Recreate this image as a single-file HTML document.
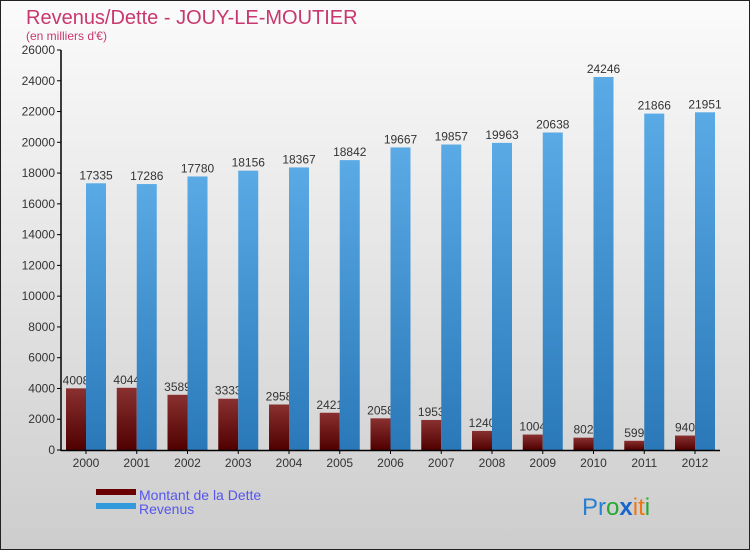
<!DOCTYPE html>
<html><head><meta charset="utf-8"><style>
body{margin:0;width:750px;height:550px;overflow:hidden;font-family:"Liberation Sans",sans-serif}
</style></head><body>
<svg id="c" width="750" height="550" xmlns="http://www.w3.org/2000/svg">
<defs>
<linearGradient id="bg" x1="0" y1="0" x2="0" y2="1"><stop offset="0" stop-color="#fbfbfb"/><stop offset="1" stop-color="#cdcdcd"/></linearGradient>
<linearGradient id="rg" x1="0" y1="0" x2="0" y2="1"><stop offset="0" stop-color="#8a3030"/><stop offset="1" stop-color="#500000"/></linearGradient>
<linearGradient id="bgr" x1="0" y1="0" x2="0" y2="1"><stop offset="0" stop-color="#5aaae6"/><stop offset="1" stop-color="#2a78b8"/></linearGradient>
</defs>
<rect x="0.5" y="0.5" width="749" height="549" fill="url(#bg)" stroke="#222"/>
<text x="26" y="24" font-size="20" fill="#c8386e">Revenus/Dette - JOUY-LE-MOUTIER</text>
<text x="26" y="40" font-size="12" fill="#c8386e">(en milliers d'€)</text>
<g id="plot"></g>
<rect x="96" y="489" width="40" height="6" fill="#6a0000"/>
<text x="139" y="500" font-size="14" fill="#5555ee">Montant de la Dette</text>
<rect x="96" y="503" width="40" height="6" fill="#3399dd"/>
<text x="139" y="514" font-size="14" fill="#5555ee">Revenus</text>
<g font-size="24" font-family="Liberation Sans, sans-serif">
<text x="582" y="515"><tspan fill="#2a7fd0">Pr</tspan><tspan fill="#22aa33">o</tspan><tspan fill="#1a66cc" font-weight="bold">x</tspan><tspan fill="#ee7711">i</tspan><tspan fill="#ee7711">t</tspan><tspan fill="#22aa33">i</tspan></text>
</g>
</svg>
<script>
const years=["2000","2001","2002","2003","2004","2005","2006","2007","2008","2009","2010","2011","2012"];
const dette=[4008,4044,3589,3333,2958,2421,2058,1953,1240,1004,802,599,940];
const revenus=[17335,17286,17780,18156,18367,18842,19667,19857,19963,20638,24246,21866,21951];
const ticks=[0,2000,4000,6000,8000,10000,12000,14000,16000,18000,20000,22000,24000,26000];
const NS="http://www.w3.org/2000/svg";
const g=document.getElementById('plot');
const y=v=>450-v*400/26000;
const x=i=>86+i*50.75;
function mk(t,a){const e=document.createElementNS(NS,t);for(const k in a)e.setAttribute(k,a[k]);g.appendChild(e);return e;}
ticks.forEach(t=>{
  const l=mk('line',{x1:57,x2:61,y1:y(t),y2:y(t),stroke:'#000'});
  
  
  const tx=mk('text',{x:55,y:y(t)+4,'text-anchor':'end','font-size':12,fill:'#333'});
  tx.textContent=t;
  
  
});
years.forEach((yr,i)=>{
  const c=x(i);
  const r=mk('rect',{x:c-20,y:y(dette[i]),width:20,height:450-y(dette[i]),fill:'url(#rg)'});
  
  
  const rt=mk('text',{x:c-10,y:y(dette[i])-4,'text-anchor':'middle','font-size':12,fill:'#333'});
  rt.textContent=dette[i];
  
  
  const b=mk('rect',{x:c,y:y(revenus[i]),width:20,height:450-y(revenus[i]),fill:'url(#bgr)'});
  
  
  const bt=mk('text',{x:c+10,y:y(revenus[i])-4,'text-anchor':'middle','font-size':12,fill:'#333'});
  bt.textContent=revenus[i];
  
  
  const tk=mk('line',{x1:c,x2:c,y1:450,y2:454,stroke:'#000'});
  
  
  const lt=mk('text',{x:c,y:467,'text-anchor':'middle','font-size':12,fill:'#333'});
  lt.textContent=yr;
  
  
});
const ya=mk('line',{x1:61,x2:61,y1:50,y2:451,stroke:'#000','stroke-width':1.5});


const xa=mk('line',{x1:61,x2:720,y1:450.5,y2:450.5,stroke:'#000','stroke-width':1.5});


</script>
</body></html>
